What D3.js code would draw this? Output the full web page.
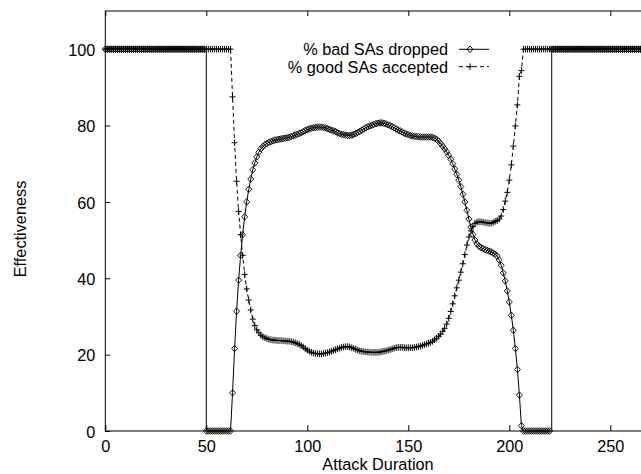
<!DOCTYPE html>
<html>
<head>
<meta charset="utf-8">
<script src="https://cdn.jsdelivr.net/npm/d3@7"></script>
<style>
  body { margin: 0; background: #fff; }
  svg text { font-family: "Liberation Sans", Arial, Helvetica, sans-serif; font-size: 16.3px; fill: #000; }
</style>
</head>
<body>
<svg id="chart"></svg>
<script>
// tick labels
const xTicks = [0, 50, 100, 150, 200, 250];
const yTicks = [0, 20, 40, 60, 80, 100];
const seriesNames = ["% bad SAs dropped", "% good SAs accepted"];

// attack duration samples, one per unit (0..270)
const duration = d3.range(0, 271);

// % bad SAs dropped
const badDropped = [
  100, 100, 100, 100, 100, 100, 100, 100, 100, 100,
  100, 100, 100, 100, 100, 100, 100, 100, 100, 100,
  100, 100, 100, 100, 100, 100, 100, 100, 100, 100,
  100, 100, 100, 100, 100, 100, 100, 100, 100, 100,
  100, 100, 100, 100, 100, 100, 100, 100, 100, 100,
  0, 0, 0, 0, 0, 0, 0, 0, 0, 0,
  0, 0, 0, 10.0, 21.6, 31.4, 39.5, 46.0, 51.4, 56.1,
  60.0, 63.3, 66.0, 68.4, 70.2, 71.8, 73.0, 73.9, 74.5, 75.0,
  75.3, 75.6, 75.8, 76.0, 76.2, 76.3, 76.4, 76.5, 76.6, 76.7,
  76.8, 76.9, 77.1, 77.3, 77.5, 77.7, 77.9, 78.1, 78.4, 78.7,
  78.9, 79.1, 79.3, 79.4, 79.5, 79.6, 79.6, 79.6, 79.5, 79.4,
  79.2, 79.0, 78.8, 78.6, 78.4, 78.1, 77.9, 77.7, 77.6, 77.5,
  77.4, 77.4, 77.5, 77.7, 77.9, 78.2, 78.5, 78.8, 79.1, 79.4,
  79.7, 79.9, 80.1, 80.3, 80.5, 80.6, 80.7, 80.7, 80.6, 80.4,
  80.2, 80.0, 79.7, 79.4, 79.1, 78.8, 78.6, 78.3, 78.0, 77.8,
  77.6, 77.4, 77.3, 77.2, 77.1, 77.1, 77.0, 77.0, 77.0, 77.0,
  77.0, 77.0, 76.9, 76.7, 76.4, 75.9, 75.3, 74.6, 73.9, 73.1,
  72.2, 71.2, 70.0, 68.6, 67.2, 65.7, 64.0, 62.0, 60.0, 57.8,
  55.5, 53.4, 51.5, 50.0, 49.0, 48.4, 48.0, 47.8, 47.5, 47.3,
  47.1, 46.9, 46.6, 46.3, 45.8, 44.8, 43.4, 41.4, 39.3, 36.7,
  33.8, 30.3, 26.4, 21.6, 16.1, 9.4, 1.4, 0, 0, 0,
  0, 0, 0, 0, 0, 0, 0, 0, 0, 0,
  0, 100, 100, 100, 100, 100, 100, 100, 100, 100,
  100, 100, 100, 100, 100, 100, 100, 100, 100, 100,
  100, 100, 100, 100, 100, 100, 100, 100, 100, 100,
  100, 100, 100, 100, 100, 100, 100, 100, 100, 100,
  100, 100, 100, 100, 100, 100, 100, 100, 100, 100,
  100
];

// % good SAs accepted
const goodAccepted = [
  100, 100, 100, 100, 100, 100, 100, 100, 100, 100,
  100, 100, 100, 100, 100, 100, 100, 100, 100, 100,
  100, 100, 100, 100, 100, 100, 100, 100, 100, 100,
  100, 100, 100, 100, 100, 100, 100, 100, 100, 100,
  100, 100, 100, 100, 100, 100, 100, 100, 100, 100,
  100, 100, 100, 100, 100, 100, 100, 100, 100, 100,
  100, 100, 100, 87.5, 75.5, 65.4, 57.5, 51.4, 46.0, 41.0,
  37.2, 34.3, 31.7, 29.3, 27.6, 26.5, 25.7, 25.1, 24.7, 24.4,
  24.2, 24.0, 23.9, 23.8, 23.8, 23.7, 23.7, 23.7, 23.6, 23.6,
  23.5, 23.5, 23.4, 23.3, 23.1, 22.9, 22.7, 22.4, 22.0, 21.6,
  21.2, 20.9, 20.6, 20.4, 20.3, 20.2, 20.2, 20.2, 20.3, 20.4,
  20.5, 20.7, 20.9, 21.1, 21.3, 21.5, 21.7, 21.9, 22.0, 22.1,
  22.1, 22.0, 21.8, 21.6, 21.4, 21.2, 21.0, 20.9, 20.8, 20.7,
  20.7, 20.6, 20.6, 20.6, 20.6, 20.6, 20.7, 20.8, 20.9, 21.0,
  21.2, 21.3, 21.5, 21.7, 21.8, 21.9, 21.9, 21.9, 21.8, 21.8,
  21.8, 21.8, 21.8, 21.9, 22.0, 22.1, 22.2, 22.4, 22.6, 22.8,
  23.0, 23.2, 23.5, 23.9, 24.3, 24.8, 25.4, 26.1, 26.9, 28.0,
  29.5, 31.3, 33.3, 35.4, 37.5, 39.5, 41.6, 43.8, 46.2, 48.7,
  50.8, 52.4, 53.6, 54.4, 54.7, 54.8, 54.8, 54.7, 54.6, 54.5,
  54.4, 54.4, 54.6, 54.9, 55.1, 55.5, 56.3, 58.0, 60.2, 62.5,
  65.7, 69.7, 74.6, 79.9, 85.4, 92.9, 94.4, 100, 100, 100,
  100, 100, 100, 100, 100, 100, 100, 100, 100, 100,
  100, 100, 100, 100, 100, 100, 100, 100, 100, 100,
  100, 100, 100, 100, 100, 100, 100, 100, 100, 100,
  100, 100, 100, 100, 100, 100, 100, 100, 100, 100,
  100, 100, 100, 100, 100, 100, 100, 100, 100, 100,
  100, 100, 100, 100, 100, 100, 100, 100, 100, 100,
  100
];

(function () {
    const W = 641;
    const H = 474;
    const plot = { left: 105.3, right: 650.7, top: 11, bottom: 431 };

    const svg = d3.select("#chart")
        .attr("width", W)
        .attr("height", H);

    const x = d3.scaleLinear().domain([0, 270]).range([plot.left, plot.right]);
    const y = d3.scaleLinear().domain([0, 110]).range([plot.bottom, plot.top]);

    // Axes (ticks point inward, gnuplot style)
    svg.append("g")
        .attr("transform", `translate(0,${plot.bottom})`)
        .call(d3.axisBottom(x).tickValues(xTicks).tickSizeInner(-6).tickSizeOuter(0).tickPadding(9));
    svg.append("g")
        .attr("transform", `translate(0,${plot.top})`)
        .call(d3.axisTop(x).tickValues(xTicks).tickSizeInner(-5).tickSizeOuter(0).tickFormat(""));
    const yAxis = svg.append("g")
        .attr("transform", `translate(${plot.left},0)`)
        .call(d3.axisLeft(y).tickValues(yTicks).tickSizeInner(-5).tickSizeOuter(0).tickPadding(10));

    svg.selectAll(".domain").remove();
    svg.selectAll(".tick line").attr("stroke", "#000").attr("stroke-width", 1);
    svg.selectAll(".tick text").attr("font-family", null).attr("font-size", null).attr("fill", "#000");
    yAxis.selectAll(".tick text").attr("dy", "0.38em");

    // Border
    svg.append("rect")
        .attr("x", plot.left).attr("y", plot.top)
        .attr("width", plot.right - plot.left).attr("height", plot.bottom - plot.top)
        .attr("fill", "none").attr("stroke", "#000").attr("stroke-width", 1);

    // Axis titles
    svg.append("text")
        .attr("x", (plot.left + plot.right) / 2)
        .attr("y", 470)
        .attr("text-anchor", "middle")
        .text("Attack Duration");
    svg.append("text")
        .attr("transform", "translate(26,229) rotate(-90)")
        .attr("text-anchor", "middle")
        .text("Effectiveness");

    const badPts = duration.map((d, i) => [d, badDropped[i]]);
    const goodPts = duration.map((d, i) => [d, goodAccepted[i]]);

    // the bad series switches plateau at a single sample time: draw that as a vertical step
    const badPath = [];
    badPts.forEach((p, i) => {
        if (i > 0 && Math.abs(p[1] - badPts[i - 1][1]) >= 99) badPath.push([p[0], badPts[i - 1][1]]);
        badPath.push(p);
    });

    const line = d3.line().x(d => x(d[0])).y(d => y(d[1]));

    svg.append("path")
        .attr("d", line(goodPts))
        .attr("fill", "none").attr("stroke", "#000").attr("stroke-width", 1)
        .attr("stroke-dasharray", "4,3");
    svg.append("path")
        .attr("d", line(badPath))
        .attr("fill", "none").attr("stroke", "#000").attr("stroke-width", 1);

    const diamond = "M0,-3.3L3,0L0,3.3L-3,0Z";
    const plus = "M-3,0H3M0,-3.3V3.3";

    svg.append("g").selectAll("path")
        .data(badPts)
        .enter().append("path")
        .attr("transform", d => `translate(${x(d[0])},${y(d[1])})`)
        .attr("d", diamond)
        .attr("fill", "none").attr("stroke", "#000").attr("stroke-width", 0.9);

    svg.append("g").selectAll("path")
        .data(goodPts)
        .enter().append("path")
        .attr("transform", d => `translate(${x(d[0])},${y(d[1])})`)
        .attr("d", plus)
        .attr("fill", "none").attr("stroke", "#000").attr("stroke-width", 1);

    // Legend
    const legend = svg.append("g");
    const rows = [
        { name: seriesNames[0], y: 49.3, dash: null, mark: diamond },
        { name: seriesNames[1], y: 66.7, dash: "4,3", mark: plus }
    ];
    rows.forEach(r => {
        legend.append("text")
            .attr("x", 448).attr("y", r.y + 6)
            .attr("text-anchor", "end")
            .text(r.name);
        legend.append("line")
            .attr("x1", 459).attr("x2", 489)
            .attr("y1", r.y).attr("y2", r.y)
            .attr("stroke", "#000").attr("stroke-width", 1)
            .attr("stroke-dasharray", r.dash);
        legend.append("path")
            .attr("transform", `translate(470,${r.y})`)
            .attr("d", r.mark)
            .attr("fill", "none").attr("stroke", "#000").attr("stroke-width", 1);
    });
})();
</script>
</body>
</html>
